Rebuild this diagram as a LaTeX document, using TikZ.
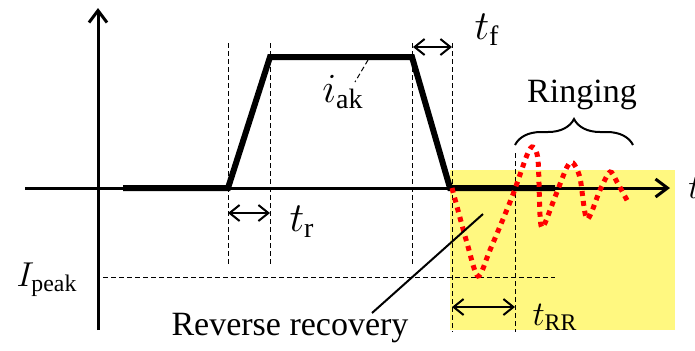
\documentclass[tikz,border=0pt]{standalone}
\usepackage{fontspec}
\setmainfont{Liberation Serif}
\usetikzlibrary{arrows.meta,decorations.pathreplacing}
\tikzset{
  axis/.style={line width=1.5pt,-{Straight Barb[length=6pt,width=9pt]}},
  wave/.style={line width=3pt,line join=miter},
  guide/.style={line width=0.5pt,dash pattern=on 2.5pt off 1.5pt},
  span/.style={line width=1pt,{Straight Barb[length=5pt,width=8pt]}-{Straight Barb[length=5pt,width=8pt]}},
  ring/.style={red,line width=2.5pt,dash pattern=on 2.5pt off 2.5pt},
  lead/.style={line width=1pt},
  brc/.style={line width=1pt,decorate,decoration={brace,amplitude=13pt}},
  lbl/.style={font=\fontsize{17}{20}\selectfont,inner sep=0pt},
  big/.style={font=\fontsize{20}{24}\selectfont,inner sep=0pt},
}
\begin{document}
\begin{tikzpicture}[x=0.5pt,y=-0.5pt]
  \useasboundingbox (0,0) rectangle (695,350);
  \fill[yellow!50] (450,170) rectangle (675,330);
  % axes
  \coordinate (xl) at (25,188);
  \coordinate (xr) at (670,188);
  \coordinate (yb) at (98,330);
  \coordinate (yt) at (98,8);
  \draw[axis] (xl) -- (xr);
  \draw[axis] (yb) -- (yt);
  \node[lbl,anchor=west] (tax) at (688,188) {$t$};
  % guides
  \foreach \x/\t/\b in {228/43/267, 270/43/267, 412/43/267, 452/43/332, 515/153/332}
    \draw[guide] (\x,\t) -- (\x,\b);
  \coordinate (pkl) at (103,277);
  \coordinate (pkr) at (555,277);
  \draw[guide] (pkl) -- (pkr);
  % current
  \draw[wave] (123,188) -- (228,188) -- (270,57) -- (412,57) -- (450,188) -- (555,188);
  \draw[ring] plot[smooth] coordinates {(452,188) (467,243) (478,276) (490,250) (512,197)
    (527,155) (533,147) (538,160) (540,215) (543,227) (555,197) (567,167) (573,163)
    (580,178) (587,219) (600,190) (610,172) (617,182) (628,202)};
  % times
  \coordinate (r1) at (228,213);
  \coordinate (r2) at (270,213);
  \coordinate (f1) at (413,47);
  \coordinate (f2) at (452,47);
  \coordinate (rr1) at (452,307);
  \coordinate (rr2) at (515,307);
  \draw[span] (r1) -- (r2);
  \draw[span] (f1) -- (f2);
  \draw[span] (rr1) -- (rr2);
  \node[big] (tr) at (302,222) {$t_\mathrm{r}$};
  \node[big] (tf) at (487,30) {$t_\mathrm{f}$};
  \node[lbl] (trr) at (555,317) {$t_\mathrm{RR}$};
  \node[big] (iak) at (343,92) {$i_\mathrm{ak}$};
  \node[lbl] (ipk) at (47,280) {$I_\mathrm{peak}$};
  \coordinate (ia1) at (368,60);
  \coordinate (ia2) at (355,82);
  \draw[guide] (ia1) -- (ia2);
  % ringing and reverse recovery
  \coordinate (b1) at (515,145);
  \coordinate (b2) at (633,145);
  \draw[brc] (b1) -- (b2);
  \node[lbl] (rng) at (582,95) {Ringing};
  \node[lbl] (rev) at (290,328) {Reverse recovery};
  \coordinate (rv1) at (372,313);
  \coordinate (rv2) at (483,214);
  \draw[lead] (rv1) -- (rv2);
\end{tikzpicture}
\end{document}
